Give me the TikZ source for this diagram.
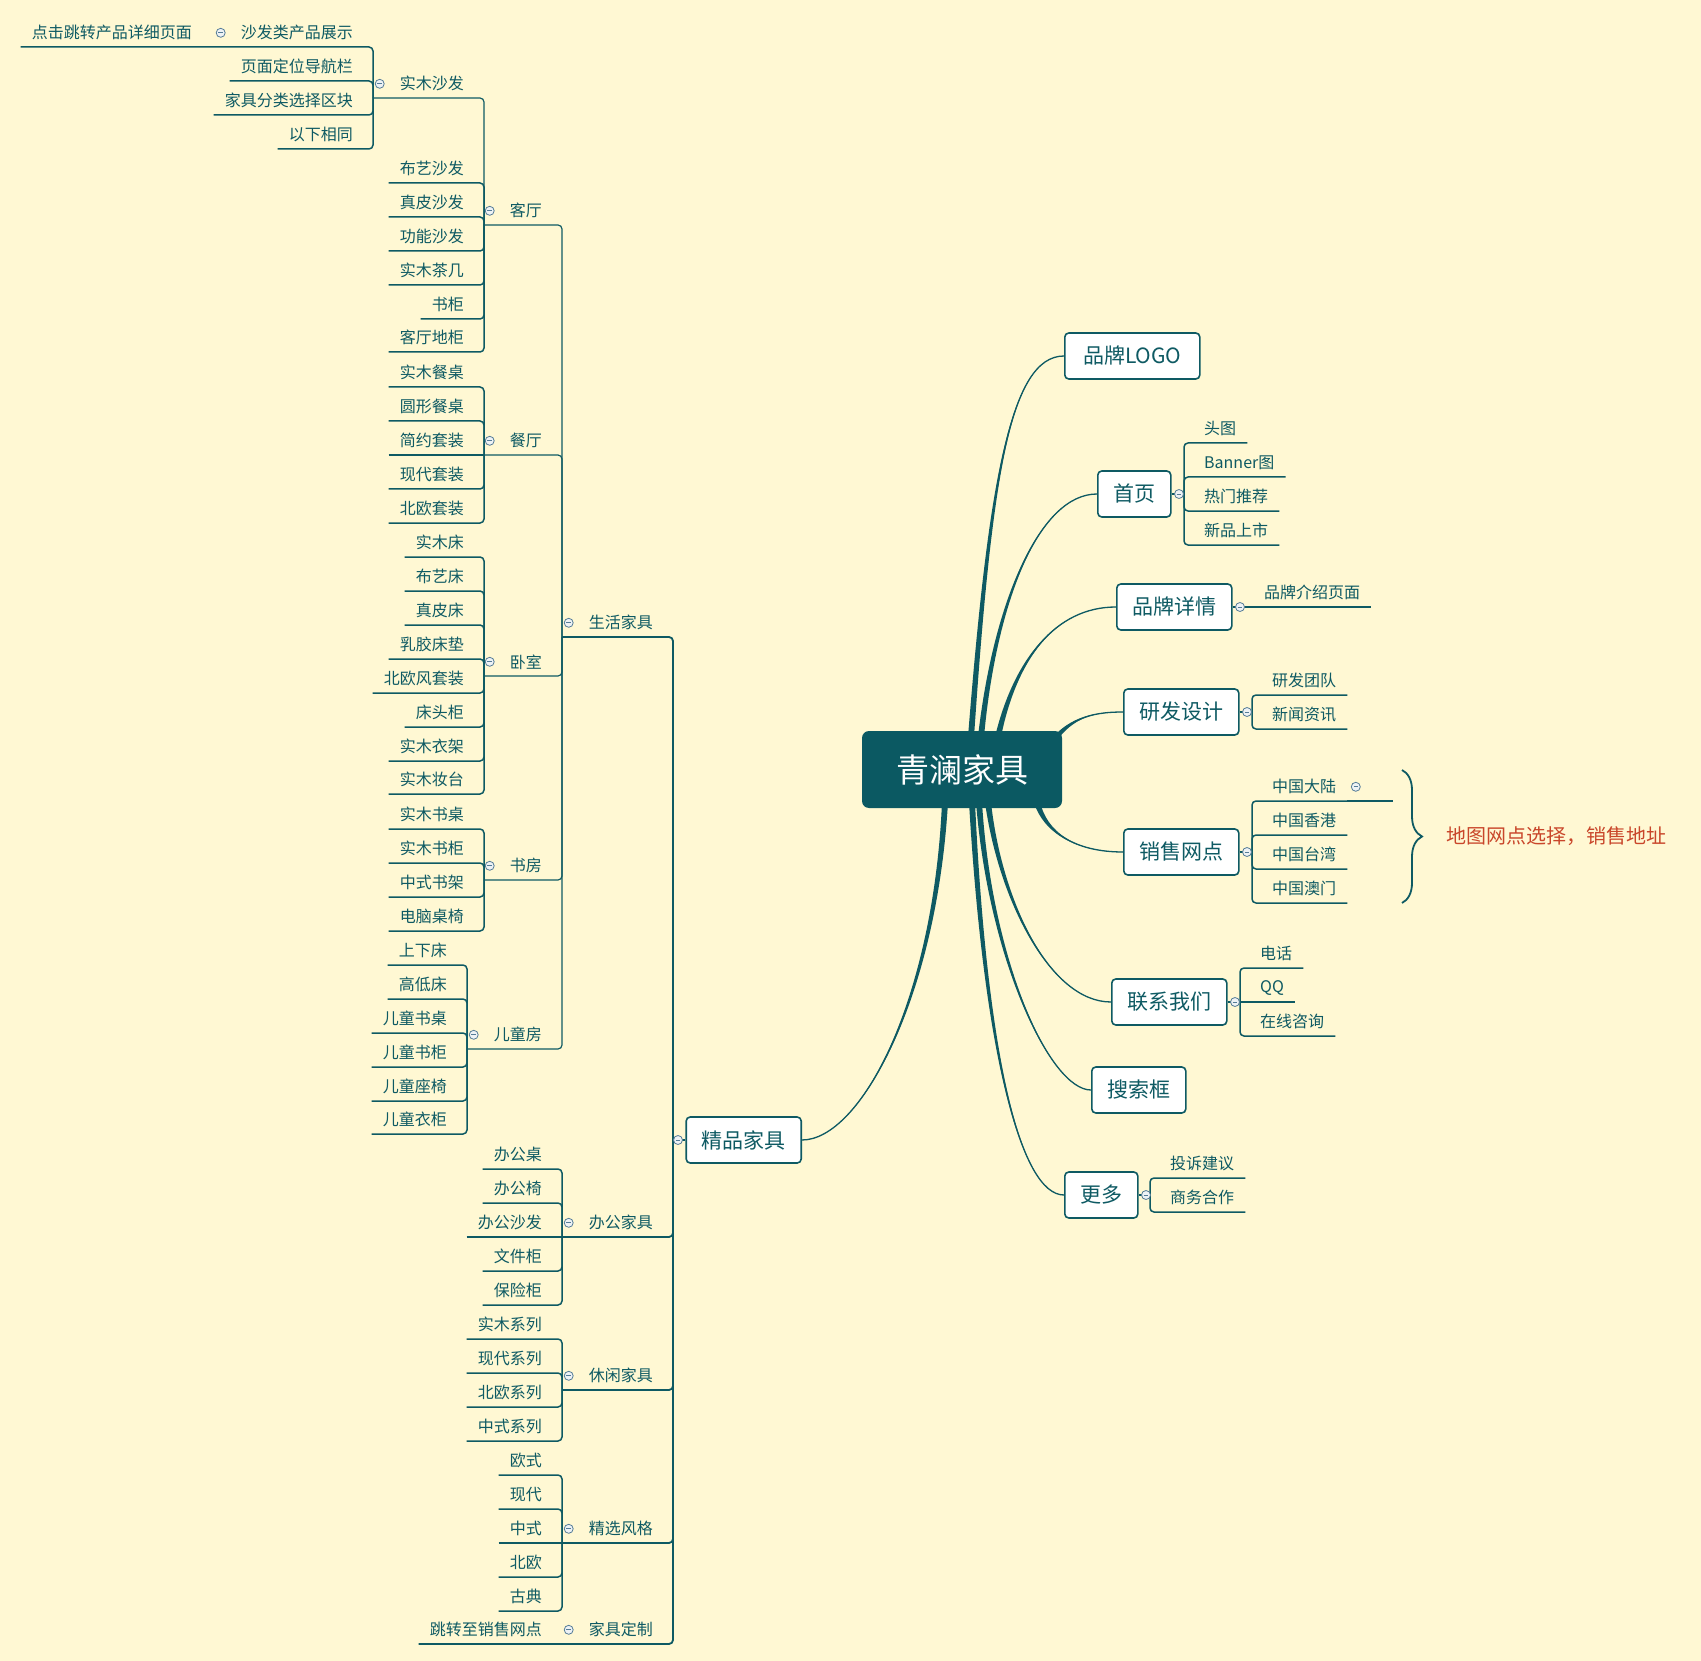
\documentclass[tikz,border=0pt]{standalone}
\usepackage{fontspec}
\setmainfont{Noto Sans CJK SC}
\usetikzlibrary{positioning, calc, decorations.pathreplacing}

\definecolor{bgc}{HTML}{FFF8D3}
\definecolor{tealc}{HTML}{0E5A63}
\definecolor{rootc}{HTML}{0B5962}
\definecolor{dotc}{HTML}{557C97}
\definecolor{dotfill}{HTML}{EEF2F5}
\definecolor{redc}{HTML}{C9462A}

\pgfdeclarelayer{back}
\pgfsetlayers{back,main}

\tikzset{
  leaf/.style={text=tealc, font=\fontsize{16}{19}\selectfont, inner xsep=11pt, inner ysep=0pt, minimum height=28pt},
  topic/.style={draw=tealc, line width=1.6pt, fill=white, rounded corners=4pt, text=tealc,
    font=\fontsize{21}{25}\selectfont, inner xsep=15.5pt, inner ysep=0pt, minimum height=46pt},
  central/.style={fill=rootc, rounded corners=7pt, text=white, font=\fontsize{33}{38}\selectfont,
    minimum width=200pt, minimum height=77pt},
  dot/.style={circle, draw=dotc, fill=dotfill, line width=0.8pt, minimum size=9pt, inner sep=0pt,
    path picture={\draw[dotc, line width=0.9pt] ([xshift=2.2pt]path picture bounding box.west)
      -- ([xshift=-2.2pt]path picture bounding box.east);}},
  leafline/.style={draw=tealc, line width=1.5pt, rounded corners=4pt},
  stem/.style={draw=tealc, line width=1.2pt, rounded corners=4pt},
  trunk/.style={draw=tealc, line width=1.8pt, rounded corners=4pt},
}

% tapered branch: start, control 1, control 2, end, half width
\newcommand{\limb}[5]{%
  \fill[tealc] ($(#1)+(#5)$) .. controls ($(#2)+0.5*(#5)$) and (#3) .. (#4)
    .. controls (#3) and ($(#2)-0.5*(#5)$) .. ($(#1)-(#5)$) -- cycle;
  \draw[tealc, line width=1.3pt] (#1) .. controls (#2) and (#3) .. (#4);
}

\begin{document}
\begin{tikzpicture}[x=1pt, y=-1pt]
  % Background
  \begin{pgfonlayer}{back}
    \fill[bgc] (0,0) rectangle (1701,1661);
  \end{pgfonlayer}
  \useasboundingbox (0,0) rectangle (1701,1661);

  % Root and main topics
  \node[central] (root) at (962,769.5) {青澜家具};
  \node[topic, anchor=west, minimum width=135pt] (logo) at (1064,356) {品牌LOGO};
  \node[topic, anchor=west] (home) at (1097,494) {首页};
  \node[topic, anchor=west] (brand) at (1116,607) {品牌详情};
  \node[topic, anchor=west] (rd) at (1123,712) {研发设计};
  \node[topic, anchor=west] (sales) at (1123,852) {销售网点};
  \node[topic, anchor=west] (contact) at (1111,1002) {联系我们};
  \node[topic, anchor=west] (search) at (1091,1090) {搜索框};
  \node[topic, anchor=west] (more) at (1064,1195) {更多};
  \node[topic, anchor=east] (jp) at (802,1140) {精品家具};

  % Branches from the root
  \begin{pgfonlayer}{back}
    \coordinate (lg-s) at ($(root.north)+(9,6)$);
    \coordinate (hm-s) at ($(root.north)+(19,6)$);
    \coordinate (bd-s) at ($(root.north)+(36,6)$);
    \coordinate (rd-s) at ($(root.north east)+(-12,14)$);
    \coordinate (sl-s) at ($(root.south)+(75,-6)$);
    \coordinate (lx-s) at ($(root.south)+(26,-6)$);
    \coordinate (sr-s) at ($(root.south)+(17,-6)$);
    \coordinate (mr-s) at ($(root.south)+(10,-6)$);
    \coordinate (jp-s) at ($(root.south)+(-17,-6)$);
    \limb{lg-s}{990,480}{1010,356}{logo.west}{3,0}
    \limb{hm-s}{995,600}{1040,494}{home.west}{3,0}
    \limb{bd-s}{1015,660}{1055,607}{brand.west}{3,0}
    \limb{rd-s}{1068,720}{1088,712}{rd.west}{2.4,1.8}
    \limb{sl-s}{1045,832}{1075,852}{sales.west}{2.9,-0.8}
    \limb{lx-s}{1000,900}{1050,1002}{contact.west}{3,0}
    \limb{sr-s}{990,960}{1050,1090}{search.west}{3,0}
    \limb{mr-s}{985,1050}{1020,1195}{more.west}{3,0}
    \limb{jp-s}{935,1000}{860,1140}{jp.east}{3,0}
  \end{pgfonlayer}

  % Junctions
  \coordinate (hm-j) at (1184,494);
  \coordinate (rd-j) at (1252,712);
  \coordinate (sl-j) at (1252,852);
  \coordinate (lx-j) at (1240,1002);
  \coordinate (gd-j) at (1150,1195);
  \coordinate (jp-j) at (673,1140);
  \coordinate (sh-j) at (562,637);
  \coordinate (bg-j) at (562,1237);
  \coordinate (xx-j) at (562,1390);
  \coordinate (jx-j) at (562,1543);
  \coordinate (kt-j) at (484,225);
  \coordinate (ct-j) at (484,455);
  \coordinate (ws-j) at (484,676);
  \coordinate (sf-j) at (484,880);
  \coordinate (et-j) at (467,1049);
  \coordinate (sm-j) at (373,98);

  % Right side subtopics
  \draw[stem] (home.east) -- (hm-j);
  \foreach \i/\y/\txt in {1/443/头图, 2/477/Banner图, 3/511/热门推荐, 4/545/新品上市} {
    \node[leaf, anchor=south west] (hm-\i) at (1193,\y) {\txt};
    \draw[leafline] (hm-\i.south east) -- (hm-\i.south west -| hm-j) -- (hm-j);
  }
  \node[leaf, anchor=south west] (bd-1) at (1253,607) {品牌介绍页面};
  \draw[leafline] (brand.east) -- (bd-1.south east);

  \draw[stem] (rd.east) -- (rd-j);
  \foreach \i/\y/\txt in {1/695/研发团队, 2/729/新闻资讯} {
    \node[leaf, anchor=south west] (rd-\i) at (1261,\y) {\txt};
    \draw[leafline] (rd-\i.south east) -- (rd-\i.south west -| rd-j) -- (rd-j);
  }

  \draw[stem] (sales.east) -- (sl-j);
  \foreach \i/\y/\txt in {1/801/中国大陆, 2/835/中国香港, 3/869/中国台湾, 4/903/中国澳门} {
    \node[leaf, anchor=south west] (sl-\i) at (1261,\y) {\txt};
    \draw[leafline] (sl-\i.south east) -- (sl-\i.south west -| sl-j) -- (sl-j);
  }
  \draw[leafline] (sl-1.south east) -- ++(46,0);

  % Summary brace
  \coordinate (br-a) at (1402,770);
  \coordinate (br-b) at (1402,903);
  \draw[tealc, line width=1.8pt, decorate, decoration={brace, amplitude=20pt}] (br-a) -- (br-b);
  \node[anchor=west, text=redc, font=\fontsize{20}{24}\selectfont, inner sep=0pt] (note) at (1446,836) {地图网点选择，销售地址};

  \draw[stem] (contact.east) -- (lx-j);
  \foreach \i/\y/\txt in {1/968/电话, 3/1036/在线咨询} {
    \node[leaf, anchor=south west] (lx-\i) at (1249,\y) {\txt};
    \draw[leafline] (lx-\i.south east) -- (lx-\i.south west -| lx-j) -- (lx-j);
  }
  \node[leaf, anchor=south west] (lx-2) at (1249,1002) {QQ};
  \draw[leafline] (lx-j) -- (lx-2.south east);

  \draw[stem] (more.east) -- (gd-j);
  \foreach \i/\y/\txt in {1/1178/投诉建议, 2/1212/商务合作} {
    \node[leaf, anchor=south west] (gd-\i) at (1159,\y) {\txt};
    \draw[leafline] (gd-\i.south east) -- (gd-\i.south west -| gd-j) -- (gd-j);
  }

  % Left side: sofa pages
  \node[leaf, anchor=south east] (zs) at (364,47) {沙发类产品展示};
  \node[leaf, anchor=south east] (dj) at (203,47) {点击跳转产品详细页面};
  \draw[leafline] (dj.south west) -- (dj.south west -| sm-j) -- (sm-j);
  \foreach \i/\y/\txt in {1/81/页面定位导航栏, 2/115/家具分类选择区块, 3/149/以下相同} {
    \node[leaf, anchor=south east] (sm-\i) at (364,\y) {\txt};
    \draw[leafline] (sm-\i.south west) -- (sm-\i.south west -| sm-j) -- (sm-j);
  }
  \node[leaf, anchor=south east] (sm) at (475,98) {实木沙发};
  \draw[stem] (sm-j) -- (sm-j -| kt-j) -- (kt-j);

  % Living room
  \foreach \i/\y/\txt in {1/183/布艺沙发, 2/217/真皮沙发, 3/251/功能沙发, 4/285/实木茶几, 5/319/书柜, 6/352/客厅地柜} {
    \node[leaf, anchor=south east] (kt-\i) at (475,\y) {\txt};
    \draw[leafline] (kt-\i.south west) -- (kt-\i.south west -| kt-j) -- (kt-j);
  }
  \node[leaf, anchor=south east] (kt) at (553,225) {客厅};
  \draw[stem] (kt-j) -- (kt-j -| sh-j) -- (sh-j);

  % Dining room
  \foreach \i/\y/\txt in {1/387/实木餐桌, 2/421/圆形餐桌, 4/489/现代套装, 5/523/北欧套装} {
    \node[leaf, anchor=south east] (ct-\i) at (475,\y) {\txt};
    \draw[leafline] (ct-\i.south west) -- (ct-\i.south west -| ct-j) -- (ct-j);
  }
  \node[leaf, anchor=south east] (ct-3) at (475,455) {简约套装};
  \draw[leafline] (ct-3.south west) -- (ct-j);
  \node[leaf, anchor=south east] (ct) at (553,455) {餐厅};
  \draw[stem] (ct-j) -- (ct-j -| sh-j) -- (sh-j);

  % Bedroom
  \foreach \i/\y/\txt in {1/557/实木床, 2/591/布艺床, 3/625/真皮床, 4/659/乳胶床垫, 5/693/北欧风套装, 6/727/床头柜, 7/761/实木衣架, 8/794/实木妆台} {
    \node[leaf, anchor=south east] (ws-\i) at (475,\y) {\txt};
    \draw[leafline] (ws-\i.south west) -- (ws-\i.south west -| ws-j) -- (ws-j);
  }
  \node[leaf, anchor=south east] (ws) at (553,676) {卧室};
  \draw[stem] (ws-j) -- (ws-j -| sh-j) -- (sh-j);

  % Study
  \foreach \i/\y/\txt in {1/829/实木书桌, 2/863/实木书柜, 3/897/中式书架, 4/931/电脑桌椅} {
    \node[leaf, anchor=south east] (sf-\i) at (475,\y) {\txt};
    \draw[leafline] (sf-\i.south west) -- (sf-\i.south west -| sf-j) -- (sf-j);
  }
  \node[leaf, anchor=south east] (sf) at (553,880) {书房};
  \draw[stem] (sf-j) -- (sf-j -| sh-j) -- (sh-j);

  % Kids room
  \foreach \i/\y/\txt in {1/965/上下床, 2/999/高低床, 3/1033/儿童书桌, 4/1067/儿童书柜, 5/1101/儿童座椅, 6/1134/儿童衣柜} {
    \node[leaf, anchor=south east] (et-\i) at (458,\y) {\txt};
    \draw[leafline] (et-\i.south west) -- (et-\i.south west -| et-j) -- (et-j);
  }
  \node[leaf, anchor=south east] (et) at (553,1049) {儿童房};
  \draw[stem] (et-j) -- (et-j -| sh-j) -- (sh-j);

  % Office
  \foreach \i/\y/\txt in {1/1169/办公桌, 2/1203/办公椅, 4/1271/文件柜, 5/1305/保险柜} {
    \node[leaf, anchor=south east] (bg-\i) at (553,\y) {\txt};
    \draw[leafline] (bg-\i.south west) -- (bg-\i.south west -| bg-j) -- (bg-j);
  }
  \node[leaf, anchor=south east] (bg-3) at (553,1237) {办公沙发};
  \draw[leafline] (bg-3.south west) -- (bg-j);

  % Leisure
  \foreach \i/\y/\txt in {1/1339/实木系列, 2/1373/现代系列, 3/1407/北欧系列, 4/1441/中式系列} {
    \node[leaf, anchor=south east] (xx-\i) at (553,\y) {\txt};
    \draw[leafline] (xx-\i.south west) -- (xx-\i.south west -| xx-j) -- (xx-j);
  }

  % Styles
  \foreach \i/\y/\txt in {1/1475/欧式, 2/1509/现代, 4/1577/北欧, 5/1611/古典} {
    \node[leaf, anchor=south east] (jx-\i) at (553,\y) {\txt};
    \draw[leafline] (jx-\i.south west) -- (jx-\i.south west -| jx-j) -- (jx-j);
  }
  \node[leaf, anchor=south east] (jx-3) at (553,1543) {中式};
  \draw[leafline] (jx-3.south west) -- (jx-j);

  % Second level on the left
  \node[leaf, anchor=south east] (sh) at (664,637) {生活家具};
  \node[leaf, anchor=south east] (bg) at (664,1237) {办公家具};
  \node[leaf, anchor=south east] (xx) at (664,1390) {休闲家具};
  \node[leaf, anchor=south east] (jx) at (664,1543) {精选风格};
  \node[leaf, anchor=south east] (dz) at (664,1644) {家具定制};
  \node[leaf, anchor=south east] (dz-1) at (553,1644) {跳转至销售网点};
  \foreach \n in {sh, bg, xx, jx} {
    \draw[trunk] (\n-j) -- (\n-j -| jp-j) -- (jp-j);
  }
  \draw[trunk] (dz-1.south west) -- (dz-1.south west -| jp-j) -- (jp-j);
  \draw[stem] (jp.west) -- (jp-j);

  % Collapse markers
  \foreach \n in {sh, bg, xx, jx, dz, kt, ct, ws, sf, et, sm, zs} {
    \node[dot, left=4pt of \n] (\n-d) {};
  }
  \foreach \n in {home, brand, rd, sales, contact, more} {
    \node[dot, right=2.5pt of \n] (\n-d) {};
  }
  \node[dot, left=2.5pt of jp] (jp-d) {};
  \node[dot, right=3.5pt of sl-1] (sl-1d) {};
\end{tikzpicture}
\end{document}
